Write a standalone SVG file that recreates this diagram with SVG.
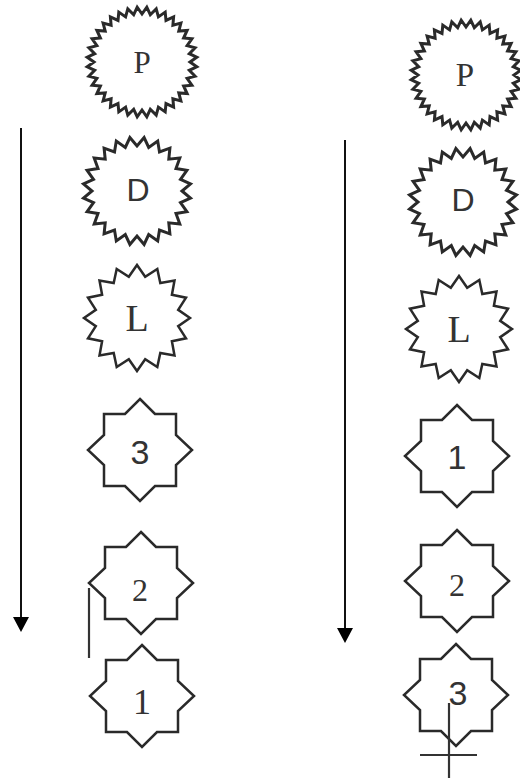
<svg xmlns="http://www.w3.org/2000/svg" xmlns:xlink="http://www.w3.org/1999/xlink" width="520" height="778" viewBox="0 0 520 778">
<style>
.shape{fill:#fff;stroke:#2a2a2a;stroke-width:2.5;stroke-linejoin:miter}
.gear{fill:#fff;stroke:#2a2a2a;stroke-width:3;stroke-linejoin:miter}
.serif{font-family:"Liberation Serif","DejaVu Serif",serif;fill:#333;text-anchor:middle}
.sans{font-family:"Liberation Sans","DejaVu Sans",sans-serif;fill:#333;text-anchor:middle}
.line{stroke:#111;stroke-width:2;fill:none}
.mark{stroke:#333;stroke-width:2.2;fill:none}
</style>
<defs>
<polygon id="gearP" points="48,0 54.8,4.8 47.3,8.3 53.1,14.2 45.1,16.4 49.9,23.2 41.6,24 45.1,31.6 36.8,30.9 38.9,38.9 30.9,36.8 31.6,45.1 24,41.6 23.2,49.9 16.4,45.1 14.2,53.1 8.3,47.3 4.8,54.8 0,48 -4.8,54.8 -8.3,47.3 -14.2,53.1 -16.4,45.1 -23.2,49.9 -24,41.6 -31.6,45.1 -30.9,36.8 -38.9,38.9 -36.8,30.9 -45.1,31.6 -41.6,24 -49.9,23.2 -45.1,16.4 -53.1,14.2 -47.3,8.3 -54.8,4.8 -48,0 -54.8,-4.8 -47.3,-8.3 -53.1,-14.2 -45.1,-16.4 -49.9,-23.2 -41.6,-24 -45.1,-31.6 -36.8,-30.9 -38.9,-38.9 -30.9,-36.8 -31.6,-45.1 -24,-41.6 -23.2,-49.9 -16.4,-45.1 -14.2,-53.1 -8.3,-47.3 -4.8,-54.8 0,-48 4.8,-54.8 8.3,-47.3 14.2,-53.1 16.4,-45.1 23.2,-49.9 24,-41.6 31.6,-45.1 30.9,-36.8 38.9,-38.9 36.8,-30.9 45.1,-31.6 41.6,-24 49.9,-23.2 45.1,-16.4 53.1,-14.2 47.3,-8.3 54.8,-4.8"/>
<polygon id="gearD" points="45,0 53.5,7.1 43.5,11.7 49.9,20.7 39,22.5 42.8,32.9 31.8,31.8 32.9,42.8 22.5,39 20.7,49.9 11.7,43.5 7.1,53.5 0,45 -7.1,53.5 -11.7,43.5 -20.7,49.9 -22.5,39 -32.9,42.8 -31.8,31.8 -42.8,32.9 -39,22.5 -49.9,20.7 -43.5,11.7 -53.5,7.1 -45,0 -53.5,-7.1 -43.5,-11.7 -49.9,-20.7 -39,-22.5 -42.8,-32.9 -31.8,-31.8 -32.9,-42.8 -22.5,-39 -20.7,-49.9 -11.7,-43.5 -7.1,-53.5 0,-45 7.1,-53.5 11.7,-43.5 20.7,-49.9 22.5,-39 32.9,-42.8 31.8,-31.8 42.8,-32.9 39,-22.5 49.9,-20.7 43.5,-11.7 53.5,-7.1"/>
<polygon id="starL" points="53,0 41.2,8.2 49,20.3 34.9,23.3 37.5,37.5 23.3,34.9 20.3,49 8.2,41.2 0,53 -8.2,41.2 -20.3,49 -23.3,34.9 -37.5,37.5 -34.9,23.3 -49,20.3 -41.2,8.2 -53,0 -41.2,-8.2 -49,-20.3 -34.9,-23.3 -37.5,-37.5 -23.3,-34.9 -20.3,-49 -8.2,-41.2 0,-53 8.2,-41.2 20.3,-49 23.3,-34.9 37.5,-37.5 34.9,-23.3 49,-20.3 41.2,-8.2"/>
<polygon id="oct" points="0,-51 15,-36 36,-36 36,-15 52,0 36,15 36,36 15,36 0,51 -15,36 -36,36 -36,15 -52,0 -36,-15 -36,-36 -15,-36"/>
</defs>
<g id="connectors">
<line class="line" x1="21" y1="128" x2="21" y2="617"/>
<polygon points="13,617 29,617 21,632" fill="#000"/>
<line class="line" x1="345" y1="140" x2="345" y2="628"/>
<polygon points="337,628 353,628 345,643" fill="#000"/>
<line class="mark" x1="89" y1="588" x2="89" y2="658"/>
</g>
<g id="left-P"><use xlink:href="#gearP" href="#gearP" class="gear" transform="translate(142,62)"/><text class="serif" x="142" y="73" font-size="31">P</text></g>
<g id="left-D"><use xlink:href="#gearD" href="#gearD" class="gear" transform="translate(137,191)"/><text class="sans" x="138" y="201" font-size="32">D</text></g>
<g id="left-L"><use xlink:href="#starL" href="#starL" class="shape" transform="translate(137,318)"/><text class="serif" x="137" y="331" font-size="38">L</text></g>
<g id="left-3"><use xlink:href="#oct" href="#oct" class="shape" transform="translate(140,450)"/><text class="sans" x="140" y="464" font-size="34">3</text></g>
<g id="left-2"><use xlink:href="#oct" href="#oct" class="shape" transform="translate(141,583)"/><text class="serif" x="140" y="601" font-size="32">2</text></g>
<g id="left-1"><use xlink:href="#oct" href="#oct" class="shape" transform="translate(142,696)"/><text class="serif" x="142" y="714" font-size="36">1</text></g>
<g id="right-P"><use xlink:href="#gearP" href="#gearP" class="gear" transform="translate(466,75)"/><text class="serif" x="465" y="86" font-size="33">P</text></g>
<g id="right-D"><use xlink:href="#gearD" href="#gearD" class="gear" transform="translate(463,202)"/><text class="sans" x="463" y="211" font-size="32">D</text></g>
<g id="right-L"><use xlink:href="#starL" href="#starL" class="shape" transform="translate(459,329)"/><text class="serif" x="459" y="342" font-size="38">L</text></g>
<g id="right-1"><use xlink:href="#oct" href="#oct" class="shape" transform="translate(457,456)"/><text class="sans" x="457" y="469" font-size="34">1</text></g>
<g id="right-2"><use xlink:href="#oct" href="#oct" class="shape" transform="translate(457,581)"/><text class="serif" x="457" y="596" font-size="32">2</text></g>
<g id="right-3"><use xlink:href="#oct" href="#oct" class="shape" transform="translate(456,695)"/><text class="sans" x="458" y="705" font-size="34">3</text><line class="mark" x1="449" y1="703" x2="449" y2="778"/><line class="mark" x1="420" y1="755" x2="477" y2="755"/></g>
</svg>
